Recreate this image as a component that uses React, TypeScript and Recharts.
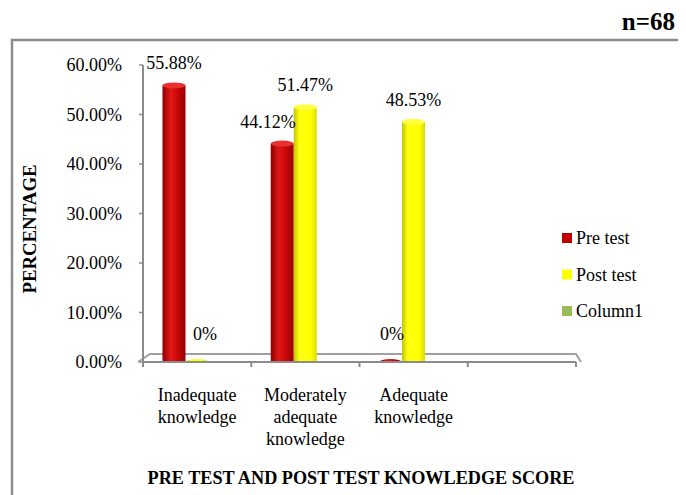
import React from "react";
import { BarChart, Bar, XAxis, YAxis, LabelList } from "recharts";

const categories = ["Inadequate\nknowledge", "Moderately\nadequate\nknowledge", "Adequate\nknowledge", ""];
const preTest: (number | null)[] = [55.88, 44.12, 0, null];
const postTest: (number | null)[] = [0, 51.47, 48.53, null];
const column1: (number | null)[] = [null, null, null, null];
const yTicks = [0, 10, 20, 30, 40, 50, 60];
const seriesNames = ["Pre test", "Post test", "Column1"];
const seriesColors = ["#C00000", "#FFFF00", "#9BBB59"];

const data = categories.map((c, i) => ({
  name: c,
  pre: preTest[i],
  post: postTest[i],
  col1: column1[i],
}));

const W = 686;
const H = 495;
const PLOT_L = 143;
const PLOT_R = 576;
const PLOT_T = 65;
const PLOT_B = 362;
const FONT = "'Liberation Serif', 'Times New Roman', serif";
const GRAY = "#8c8c8c";

const makeShape = (gradId: string, capFill: string) => (p: any) => {
  const { x, y, width, height, value } = p;
  if (x == null || width == null || value == null) return <g />;
  const h = Math.max(0, height || 0);
  const rx = width / 2;
  const ry = Math.min(3, width * 0.13);
  const top = y;
  const bottom = y + h;
  return (
    <g>
      {h > 0 && (
        <path
          d={`M${x},${top} L${x},${bottom} A${rx},${ry} 0 0 0 ${x + width},${bottom} L${x + width},${top} Z`}
          fill={`url(#${gradId})`}
        />
      )}
      <ellipse cx={x + rx} cy={top} rx={rx} ry={ry} fill={h > 0 ? capFill : `url(#${gradId})`} />
    </g>
  );
};

const fmt = (v: number) => (v === 0 ? "0%" : v.toFixed(2) + "%");

const makeLabel = (other: (number | null)[]) => (p: any) => {
  const { x, y, width, value, index } = p;
  if (value == null) return null;
  const o = other[index];
  const shiftLeft = o != null && o > value;
  return (
    <text
      x={shiftLeft ? x + width + 2 : x + width / 2 + (value === 0 ? 8 : 0)}
      y={value === 0 ? y - 22 : y - 16}
      textAnchor={shiftLeft ? "end" : "middle"}
      fontFamily={FONT}
      fontSize={18}
      fill="#000"
    >
      {fmt(value)}
    </text>
  );
};

const XTick = (p: any) => {
  const { x, y, payload } = p;
  const lines = String(payload.value).split("\n");
  return (
    <text x={x} y={y + 39} textAnchor="middle" fontFamily={FONT} fontSize={18} fill="#000">
      {lines.map((l, i) => (
        <tspan key={i} x={x} dy={i === 0 ? 0 : 22}>
          {l}
        </tspan>
      ))}
    </text>
  );
};

export default function App() {
  const band = (PLOT_R - PLOT_L) / categories.length;
  const boundaries = Array.from({ length: categories.length + 1 }, (_, i) => PLOT_L + i * band);
  return (
    <div style={{ position: "relative", width: W, height: H, marginLeft: -8, marginTop: -8, background: "#fff", overflow: "hidden" }}>
      <svg width={W} height={H} style={{ position: "absolute", left: 0, top: 0 }}>
        <defs>
          <linearGradient id="gradPre" x1="0" y1="0" x2="1" y2="0">
            <stop offset="0%" stopColor="#8e0000" />
            <stop offset="35%" stopColor="#e01818" />
            <stop offset="60%" stopColor="#d00a0a" />
            <stop offset="100%" stopColor="#980000" />
          </linearGradient>
          <linearGradient id="gradPost" x1="0" y1="0" x2="1" y2="0">
            <stop offset="0%" stopColor="#c4c400" />
            <stop offset="25%" stopColor="#ffff10" />
            <stop offset="75%" stopColor="#ffff00" />
            <stop offset="100%" stopColor="#dada00" />
          </linearGradient>
          <linearGradient id="gradCol1" x1="0" y1="0" x2="1" y2="0">
            <stop offset="0%" stopColor="#7a9a40" />
            <stop offset="40%" stopColor="#a8c868" />
            <stop offset="100%" stopColor="#7a9a40" />
          </linearGradient>
        </defs>
        <rect x={12} y={40} width={669} height={480} fill="none" stroke={GRAY} strokeWidth={2.5} />
        {/* 3D floor */}
        <polyline
          points={`${PLOT_L - 5},${PLOT_B} ${PLOT_L + 7},${PLOT_B - 8} ${PLOT_R},${PLOT_B - 8} ${PLOT_R + 5},${PLOT_B}`}
          fill="none"
          stroke="#a0a0a0"
          strokeWidth={2}
        />
        {boundaries.map((bx, i) => (
          <line key={i} x1={bx} y1={PLOT_B} x2={bx} y2={PLOT_B + 5} stroke={GRAY} strokeWidth={2} />
        ))}
        <text x={675} y={30} textAnchor="end" fontFamily={FONT} fontSize={25} fontWeight="bold" fill="#000">
          n=68
        </text>
        <text
          x={36}
          y={229}
          transform="rotate(-90 36 229)"
          textAnchor="middle"
          fontFamily={FONT}
          fontSize={18.8}
          fontWeight="bold"
          fill="#000"
        >
          PERCENTAGE
        </text>
        <text x={361} y={484} textAnchor="middle" fontFamily={FONT} fontSize={18.2} fontWeight="bold" fill="#000">
          PRE TEST AND POST TEST KNOWLEDGE SCORE
        </text>
        {seriesNames.map((s, i) => (
          <g key={s}>
            <rect x={562} y={233 + i * 36.5} width={10} height={10} fill={seriesColors[i]} />
            <text x={576} y={244 + i * 36.5} fontFamily={FONT} fontSize={18} fill="#000">
              {s}
            </text>
          </g>
        ))}
      </svg>
      <div style={{ position: "absolute", left: 0, top: 0 }}>
        <BarChart
          width={W}
          height={H}
          data={data}
          margin={{ top: PLOT_T, right: W - PLOT_R, bottom: H - PLOT_B - 30, left: PLOT_L - 60 }}
          barCategoryGap="18%"
          barGap={0}
        >
          <XAxis
            dataKey="name"
            height={30}
            axisLine={{ stroke: GRAY, strokeWidth: 2 }}
            tickLine={false}
            tickSize={0}
            tickMargin={0}
            tick={<XTick />}
            interval={0}
          />
          <YAxis
            width={60}
            domain={[0, 60]}
            ticks={yTicks}
            tickFormatter={(v: number) => v.toFixed(2) + "%"}
            axisLine={{ stroke: GRAY, strokeWidth: 2 }}
            tickLine={{ stroke: GRAY, strokeWidth: 1.5 }}
            tickSize={4}
            tickMargin={17}
            tick={{ fontFamily: FONT, fontSize: 18, fill: "#000" }}
            allowDataOverflow
          />
          <Bar dataKey="pre" name="Pre test" fill="#C00000" isAnimationActive={false} shape={makeShape("gradPre", "#e83030")}>
            <LabelList dataKey="pre" content={makeLabel(postTest)} />
          </Bar>
          <Bar dataKey="post" name="Post test" fill="#FFFF00" isAnimationActive={false} shape={makeShape("gradPost", "#ffff40")}>
            <LabelList dataKey="post" content={makeLabel([null, null, null, null])} />
          </Bar>
          <Bar dataKey="col1" name="Column1" fill="#9BBB59" isAnimationActive={false} shape={makeShape("gradCol1", "#b0d070")}>
            <LabelList dataKey="col1" content={makeLabel([null, null, null, null])} />
          </Bar>
        </BarChart>
      </div>
    </div>
  );
}
